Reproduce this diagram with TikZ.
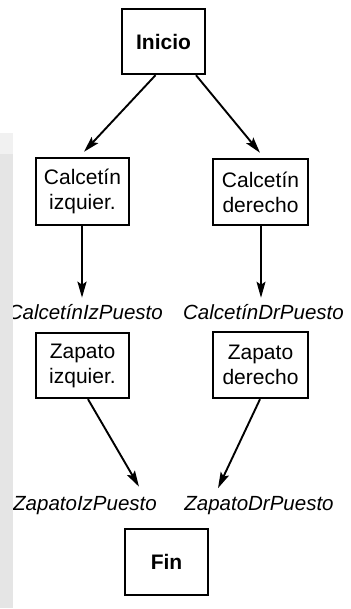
\documentclass[tikz,border=0pt]{standalone}
\usepackage{fontspec}
\setmainfont{Liberation Sans}
\usetikzlibrary{arrows.meta,calc}
\definecolor{stripgray}{RGB}{229,229,229}
\definecolor{striplight}{RGB}{241,241,241}
\tikzset{
  box/.style={draw=black, line width=2.4pt, fill=white, inner sep=0pt, align=center,
              font=\fontsize{21}{25}\selectfont},
  lab/.style={inner sep=0pt, font=\fontsize{20.5}{24}\selectfont\itshape},
  arr/.style={line width=1.9pt, -{Stealth[length=16pt,width=9pt,inset=3pt]}},
}
\begin{document}
\begin{tikzpicture}[x=1pt,y=-1pt]
\useasboundingbox (0,0) rectangle (350,609);
\clip (0,0) rectangle (350,609);
\fill[white] (0,0) rectangle (350,609);

\node[box, minimum width=83pt, minimum height=65pt, font=\fontsize{21}{25}\selectfont\bfseries] (inicio) at (163.5,41.5) {Inicio};
\node[box, minimum width=93pt, minimum height=67pt] (calciz) at (82.5,191.5) {Calcetín\\izquier.};
\node[box, minimum width=95pt, minimum height=66pt] (calcdr) at (260.5,192) {Calcetín\\derecho};
\node[box, minimum width=93pt, minimum height=65pt] (zapiz) at (82.5,365.5) {Zapato\\izquier.};
\node[box, minimum width=95pt, minimum height=66pt] (zapdr) at (260.5,365) {Zapato\\derecho};
\node[box, minimum width=83pt, minimum height=66pt, line width=2pt, font=\fontsize{21}{25}\selectfont\bfseries] (fin) at (166.5,562) {Fin};

\node[lab, anchor=base east] (calcizl) at (163,319) {CalcetínIzPuesto};
\node[lab, anchor=base] (calcdrl) at (263.5,319) {CalcetínDrPuesto};
\node[lab, anchor=base east] (zapizl) at (157,510) {ZapatoIzPuesto};
\node[lab, anchor=base] (zapdrl) at (259,510.5) {ZapatoDrPuesto};

\draw[arr] ($(inicio.south)+(-8,0)$) -- ($(calciz.north)+(1.5,-5)$);
\draw[arr] ($(inicio.south)+(32.5,0)$) -- ($(calcdr.north)+(-0.5,-5)$);
\draw[arr, line width=2.3pt] ($(calciz.south)+(-0.5,0)$) -- ($(calcizl.north -| calciz.south)+(-0.5,-6)$);
\draw[arr, line width=1.4pt] ($(calcdr.south)+(0.5,0)$) -- ($(calcdrl.north -| calcdr.south)+(0.5,-6)$);
\draw[arr] ($(zapiz.south)+(5.5,0)$) -- ($(zapizl.north)+(54,-9)$);
\draw[arr] ($(zapdr.south)+(-0.5,0)$) -- ($(zapdrl.north)+(-41,-8)$);

\fill[striplight] (0,133) rectangle (12.5,154);
\fill[stripgray] (0,154) rectangle (12.5,608);
\end{tikzpicture}
\end{document}
